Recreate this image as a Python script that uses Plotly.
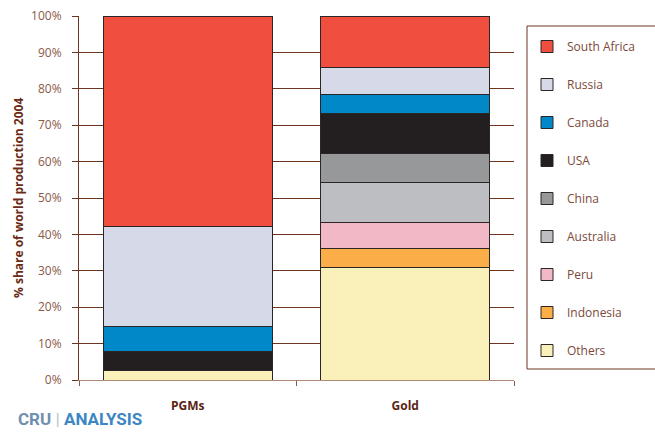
import plotly.graph_objects as go

# World production shares 2004 (%), by metal
metals = ["PGMs", "Gold"]
countries = ["Others", "Indonesia", "Peru", "Australia", "China",
             "USA", "Canada", "Russia", "South Africa"]
pgms_share = [2.6, 0.0, 0.0, 0.0, 0.0, 5.3, 6.7, 27.6, 57.8]
gold_share = [30.8, 5.4, 7.2, 10.8, 8.1, 10.8, 5.3, 7.5, 14.1]
colors = ["#FAF0B9", "#FBAE48", "#F2B8C6", "#BDBEC2", "#97989A",
          "#231F20", "#0088C8", "#D6DAE8", "#F04E3E"]
tick_vals = [0, 10, 20, 30, 40, 50, 60, 70, 80, 90, 100]
tick_text = [f"{v}%" for v in tick_vals]

BROWN = "#6E3420"
LABEL = "#8A5A48"
FONT = "Open Sans"

W, H = 655, 436
L, R, T, B = 79, 141, 16, 56
pw, ph = W - L - R, H - T - B


def px_x(x):
    return (x - L) / pw


def px_y(y):
    return (H - B - y) / ph


fig = go.Figure()
n = len(countries)
for i, name in enumerate(countries):
    fig.add_trace(go.Bar(
        x=metals,
        y=[pgms_share[i], gold_share[i]],
        name=name,
        legendgroup=name,
        legendrank=n - i,  # top of the stack first in the legend
        marker=dict(color=colors[i], line=dict(color="#2B2626", width=1)),
    ))

fig.update_layout(
    width=W, height=H,
    margin=dict(l=L, r=R, t=T, b=B),
    barmode="stack",
    bargap=0.223,
    plot_bgcolor="white",
    paper_bgcolor="white",
    font=dict(family=FONT, size=12, color=LABEL),
    showlegend=True,
    legend=dict(
        x=px_x(527), xanchor="left",
        y=px_y(32), yanchor="top",
        traceorder="grouped",
        tracegroupgap=19,
        font=dict(family=FONT, size=12, color="#7B4A3A"),
        bgcolor="rgba(0,0,0,0)",
        borderwidth=0,
    ),
    xaxis=dict(
        type="category",
        tickson="boundaries",
        ticks="outside", ticklen=5, tickcolor=LABEL,
        showline=True, linecolor="#B08878", linewidth=1,
        ticklabelstandoff=15,
        tickfont=dict(family=FONT, size=12, color="#5A2412", weight="bold"),
        automargin=False,
        fixedrange=True,
    ),
    yaxis=dict(
        range=[0, 100],
        tickvals=tick_vals, ticktext=tick_text,
        ticks="outside", ticklen=6, tickcolor=BROWN,
        showline=True, linecolor=BROWN, linewidth=1,
        showgrid=True, gridcolor=BROWN, gridwidth=1,
        zeroline=False,
        ticklabelstandoff=8,
        tickfont=dict(family=FONT, size=12, color=LABEL),
        automargin=False,
        fixedrange=True,
    ),
    shapes=[
        # legend frame
        dict(type="rect", xref="paper", yref="paper",
             x0=px_x(527), x1=px_x(662), y0=px_y(369), y1=px_y(26),
             line=dict(color=BROWN, width=1), fillcolor="rgba(0,0,0,0)",
             layer="below"),
    ],
    annotations=[
        dict(text="% share of world production 2004",
             xref="paper", yref="paper", x=px_x(18), y=0.5,
             xanchor="center", yanchor="middle",
             textangle=-90, showarrow=False,
             font=dict(family=FONT, size=12, color="#6A2A14", weight="bold")),
        dict(text="<span style='color:#6F8FB0'>CRU</span>"
                  "<span style='color:#C0CCD8'> | </span>"
                  "<span style='color:#3C86C4'>ANALYSIS</span>",
             xref="paper", yref="paper", x=px_x(16), y=px_y(419),
             xanchor="left", yanchor="middle", showarrow=False,
             font=dict(family="Roboto", size=17, weight="bold")),
    ],
)

fig.write_html("out.html")
